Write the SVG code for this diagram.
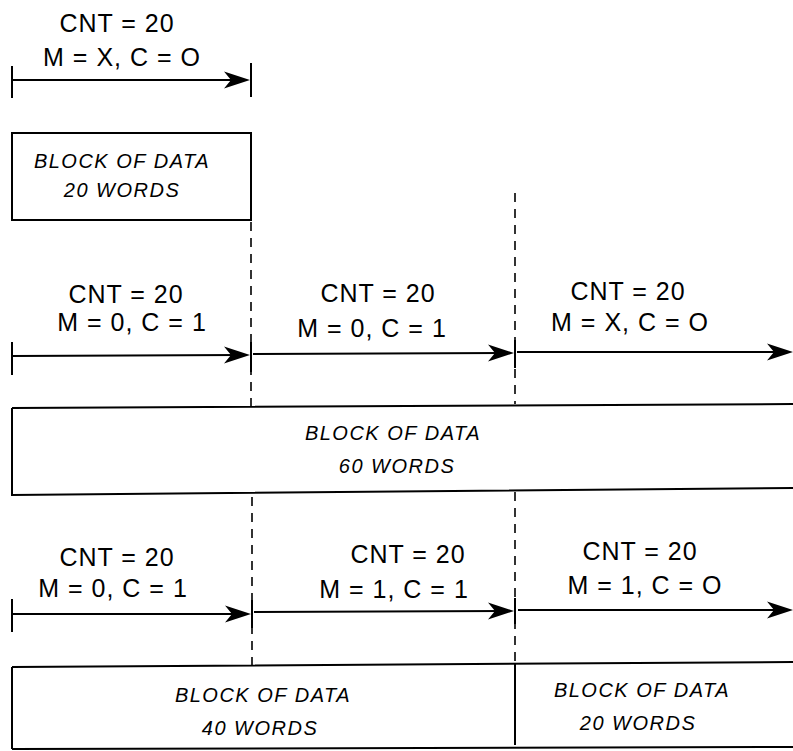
<svg xmlns="http://www.w3.org/2000/svg" width="793" height="751" viewBox="0 0 793 751">
<defs>
<style>
.ln{stroke:#000;stroke-width:2;fill:none}
.dash{stroke:#000;stroke-width:1.6;fill:none;stroke-dasharray:9 7}
.box{stroke:#000;stroke-width:2;fill:none}
.ah{fill:#000;stroke:none}
.lbl{font-family:"Liberation Sans",Arial,sans-serif;font-size:25px;letter-spacing:1px;fill:#000;text-anchor:middle}
.blk{font-family:"Liberation Sans",Arial,sans-serif;font-size:20px;font-style:italic;letter-spacing:1.5px;fill:#000;text-anchor:middle}
</style>
<path id="head" d="M0,0 L-26,-8.5 L-19,0 L-26,8.5 Z"/>
</defs>
<rect width="793" height="751" fill="#fff"/>

<g id="connectors">
<!-- row 1 -->
<line class="ln" x1="12" y1="66" x2="12" y2="98"/>
<line class="ln" x1="251" y1="63" x2="251" y2="97"/>
<line class="ln" x1="12" y1="80" x2="240" y2="80"/>
<use href="#head" class="ah" transform="translate(250,80)"/>
<!-- dashed dividers -->
<line class="dash" x1="251" y1="222" x2="251" y2="406"/>
<line class="dash" x1="515" y1="193" x2="515" y2="404"/>
<line class="dash" x1="252" y1="497" x2="252" y2="665"/>
<line class="dash" x1="515" y1="492" x2="515" y2="662"/>
<!-- row 2 -->
<line class="ln" x1="12" y1="342" x2="12" y2="375"/>
<line class="ln" x1="251" y1="342" x2="251" y2="372"/>
<line class="ln" x1="515" y1="340" x2="515" y2="368"/>
<line class="ln" x1="13" y1="356" x2="240" y2="355"/>
<use href="#head" class="ah" transform="translate(250,355)"/>
<line class="ln" x1="253" y1="354" x2="504" y2="353"/>
<use href="#head" class="ah" transform="translate(514,353)"/>
<line class="ln" x1="517" y1="352" x2="782" y2="352"/>
<use href="#head" class="ah" transform="translate(793,352)"/>
<!-- row 3 -->
<line class="ln" x1="12" y1="599" x2="12" y2="632"/>
<line class="ln" x1="252" y1="600" x2="252" y2="628"/>
<line class="ln" x1="515" y1="598" x2="515" y2="624"/>
<line class="ln" x1="13" y1="614" x2="241" y2="614"/>
<use href="#head" class="ah" transform="translate(251,614)"/>
<line class="ln" x1="254" y1="612" x2="504" y2="611"/>
<use href="#head" class="ah" transform="translate(514,611)"/>
<line class="ln" x1="518" y1="610" x2="782" y2="610"/>
<use href="#head" class="ah" transform="translate(793,610)"/>
</g>

<g id="label-top">
<text class="lbl" x="117" y="32">CNT = 20</text>
<text class="lbl" x="122" y="66">M = X, C = O</text>
</g>

<g id="block-20-top">
<rect class="box" x="12" y="133" width="239" height="87"/>
<text class="blk" x="122" y="168">BLOCK OF DATA</text>
<text class="blk" x="122" y="197">20 WORDS</text>
</g>

<g id="label-r2-a">
<text class="lbl" x="126" y="303">CNT = 20</text>
<text class="lbl" x="132" y="331">M = 0, C = 1</text>
</g>
<g id="label-r2-b">
<text class="lbl" x="378" y="302">CNT = 20</text>
<text class="lbl" x="372" y="337">M = 0, C = 1</text>
</g>
<g id="label-r2-c">
<text class="lbl" x="628" y="300">CNT = 20</text>
<text class="lbl" x="630" y="331">M = X, C = O</text>
</g>

<g id="block-60">
<path class="box" d="M12,408 L793,404 M12,408 L12,495 L793,488"/>
<text class="blk" x="393" y="440">BLOCK OF DATA</text>
<text class="blk" x="397" y="473">60 WORDS</text>
</g>

<g id="label-r3-a">
<text class="lbl" x="117" y="566">CNT = 20</text>
<text class="lbl" x="113" y="597">M = 0, C = 1</text>
</g>
<g id="label-r3-b">
<text class="lbl" x="408" y="563">CNT = 20</text>
<text class="lbl" x="394" y="598">M = 1, C = 1</text>
</g>
<g id="label-r3-c">
<text class="lbl" x="640" y="560">CNT = 20</text>
<text class="lbl" x="645" y="594">M = 1, C = O</text>
</g>

<g id="block-40">
<path class="box" d="M12,667 L793,662 M12,667 L12,749 M12,749 L793,747"/>
<text class="blk" x="263" y="702">BLOCK OF DATA</text>
<text class="blk" x="260" y="735">40 WORDS</text>
</g>
<g id="block-20-bottom">
<line class="ln" x1="515" y1="664" x2="515" y2="745"/>
<text class="blk" x="642" y="697">BLOCK OF DATA</text>
<text class="blk" x="638" y="730">20 WORDS</text>
</g>
</svg>
